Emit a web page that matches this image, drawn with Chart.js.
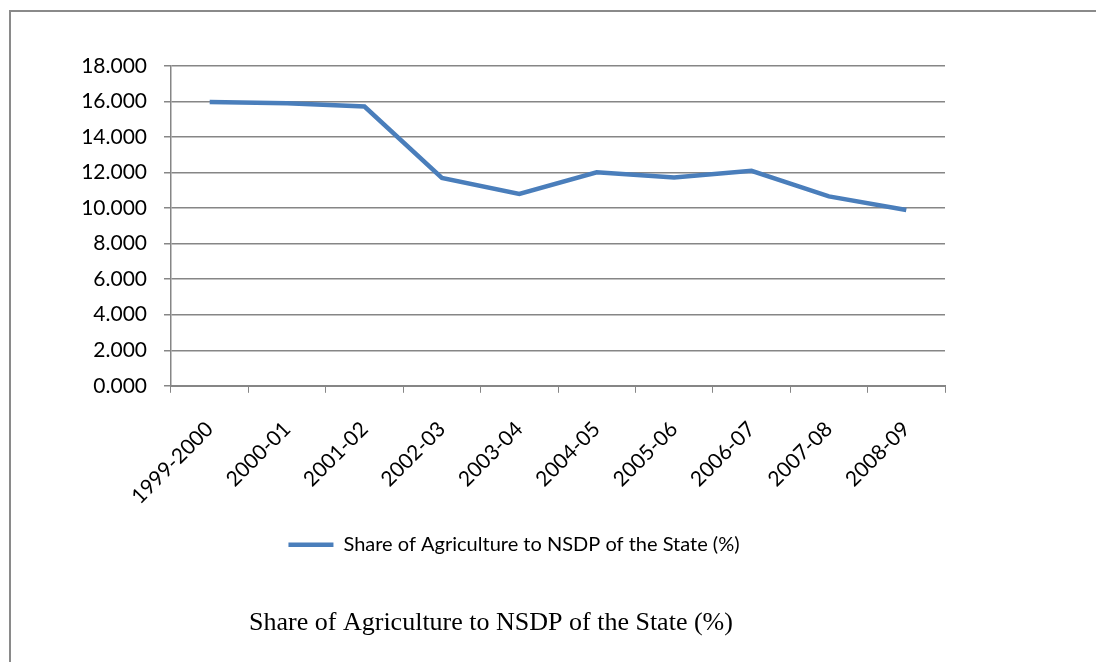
<!DOCTYPE html>
<html lang="en">
<head>
    <meta charset="UTF-8" />
    <title>Share of Agriculture to NSDP</title>
    <style>
        html, body { margin: 0; padding: 0; background: #fff; }
        .quadro {
            position: absolute; left: 9px; top: 10px; width: 1087px; height: 652px;
            border-left: 2px solid #8a8a8a; border-top: 2px solid #8a8a8a;
        }
        .grafico { position: absolute; left: 0; top: 0; width: 1096px; height: 662px; }
    </style>
</head>
<body>
    <div class="quadro"></div>
    <div class="grafico"><canvas id="lineDash"></canvas></div>

    <script src="https://cdn.jsdelivr.net/npm/chart.js"></script>
    <script>
        // dados
        const anos = ['1999-2000', '2000-01', '2001-02', '2002-03', '2003-04', '2004-05', '2005-06', '2006-07', '2007-08', '2008-09'];
        const participacao = [15.97, 15.90, 15.72, 11.70, 10.80, 12.02, 11.72, 12.10, 10.66, 9.89];
        const ticksY = [0, 2, 4, 6, 8, 10, 12, 14, 16, 18];
        const nomeSerie = 'Share of Agriculture to NSDP of the State (%)';

        const azul = '#4a7ebb';
        const cinza = '#868686';

        // desloca legenda e titulo na horizontal (no original nao ficam centrados no canvas)
        const deslocaBlocos = {
            id: 'deslocaBlocos',
            afterLayout(chart) {
                const leg = chart.legend;
                if (leg) {
                    const d = 514 - (leg.left + leg.right) / 2;
                    leg.left += d; leg.right += d;
                }
                const tit = chart.titleBlock;
                if (tit) {
                    const d = 491 - (tit.left + tit.right) / 2;
                    tit.left += d; tit.right += d;
                }
            }
        };

        const ctx = document.getElementById('lineDash').getContext('2d');
        new Chart(ctx, {
            type: 'line',
            data: {
                labels: anos,
                datasets: [{
                    label: nomeSerie,
                    data: participacao,
                    borderColor: azul,
                    backgroundColor: azul,
                    borderWidth: 4.5,
                    pointRadius: 0,
                    tension: 0,
                    fill: false
                }]
            },
            options: {
                responsive: true,
                maintainAspectRatio: false,
                animation: false,
                layout: { padding: { top: 66, right: 151, left: 0, bottom: 0 } },
                plugins: {
                    tooltip: { enabled: false },
                    legend: {
                        position: 'bottom',
                        labels: {
                            color: '#000',
                            font: { family: 'Lato', size: 20 },
                            usePointStyle: true,
                            pointStyle: 'line',
                            pointStyleWidth: 45,
                            padding: 10
                        }
                    },
                    title: {
                        display: true,
                        position: 'bottom',
                        text: nomeSerie,
                        color: '#000',
                        font: { family: 'Liberation Serif', size: 26, weight: 'normal' },
                        padding: { top: 43, bottom: 23 }
                    }
                },
                scales: {
                    x: {
                        offset: true,
                        grid: { offset: true, drawOnChartArea: false, color: cinza, tickLength: 7 },
                        border: { color: cinza, width: 2 },
                        ticks: {
                            color: '#000',
                            font: { family: 'Lato', size: 21 },
                            maxRotation: 45,
                            minRotation: 45,
                            autoSkip: false,
                            padding: 24
                        },
                        afterFit: function (scale) { scale.height = 139; }
                    },
                    y: {
                        min: 0,
                        max: 18,
                        afterBuildTicks: function (scale) {
                            scale.ticks = ticksY.map(v => ({ value: v }));
                        },
                        grid: { color: cinza, lineWidth: 1.5, tickLength: 7 },
                        border: { color: cinza, width: 1.5 },
                        ticks: {
                            color: '#000',
                            font: { family: 'Lato', size: 21 },
                            padding: 17,
                            callback: function (value) { return value.toFixed(3); }
                        },
                        afterFit: function (scale) { scale.width = 171; }
                    }
                }
            },
            plugins: [deslocaBlocos]
        });
    </script>
</body>
</html>
